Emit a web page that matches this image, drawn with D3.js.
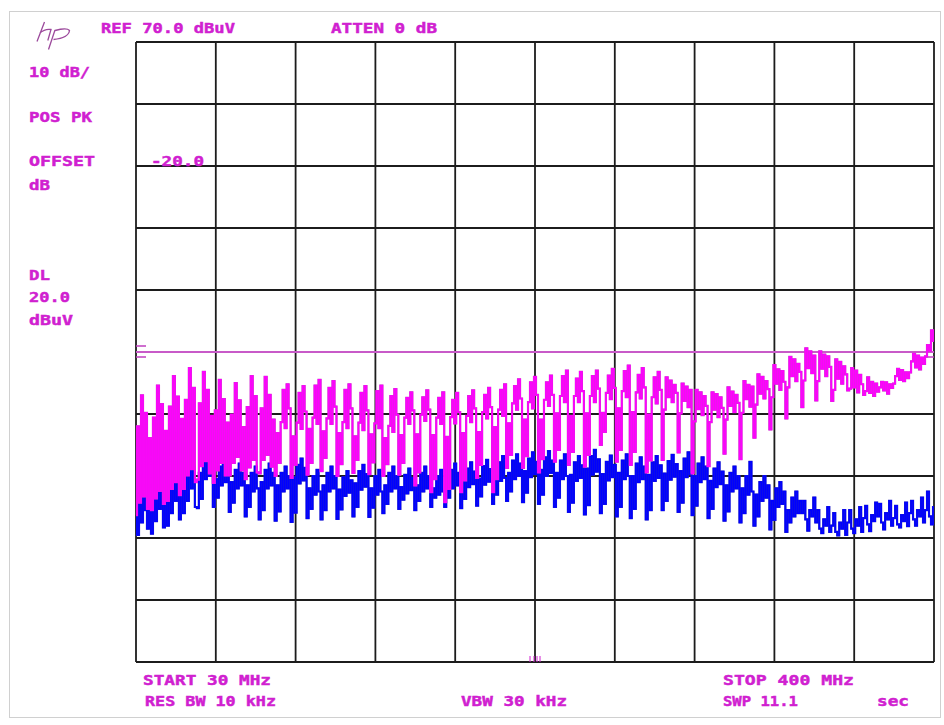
<!DOCTYPE html>
<html>
<head>
<meta charset="utf-8">
<script src="https://cdn.jsdelivr.net/npm/d3@7"></script>
<style>
  body { margin: 0; background: #fff; }
  text { font-family: "DejaVu Sans Mono", monospace; font-weight: bold; font-size: 14.5px; fill: #d020d0; stroke: #d020d0; stroke-width: 0.45px; }
</style>
</head>
<body>
<div id="chart"></div>
<script>
// analyzer settings
const START_MHZ = 30;
const STOP_MHZ = 400;
const REF_LEVEL = 70;
const DB_PER_DIV = 10;
const DISPLAY_LINE = 20;

const headerLabels = ['REF 70.0 dBuV', 'ATTEN 0 dB'];
const sideLabels = ['10 dB/', 'POS PK', 'OFFSET', 'dB', '-20.0', 'DL', '20.0', 'dBuV'];
const footerLabels = ['START 30 MHz', 'RES BW 10 kHz', 'VBW 30 kHz', 'STOP 400 MHz', 'SWP 11.1', 'sec'];

// trace A (magenta), dBuV, 401 points, one comb tooth per row
const traceA = [
  -6.3, 8.0, -4.3, 13.0, -3.3, 10.2, -5.3, 6.1,
  -5.5, 9.4, -3.6, 14.6, -2.4, 11.6, -4.5, 7.3,
  -4.0, 11.2, -2.1, 16.1, -1.0, 12.8, -3.1, 9.2,
  -2.1, 12.3, 0.1, 17.4, 1.1, 14.2, -1.0,
  -0.6, 11.7, 1.6, 16.8, 2.4, 13.9, 0.4, 9.7,
  -1.1, 10.6, 0.9, 15.5, 2.1, 12.4, 0.1, 8.6,
  0.1, 9.9, 2.1, 15.0, 3.1, 12.2, 0.9, 7.9,
  -0.5, 11.1, 1.4, 16.1, 2.6, 12.9, 0.6,
  0.4, 10.9, 2.6, 16.0, 3.4, 13.1, 1.5, 9.1,
  0.0, 6.9, 2.1, 8.7, 13.9, 7.7, 14.8, 10.9,
  -0.3, 6.4, 1.8, 8.6, 13.4, 7.6, 14.5, 10.4,
  0.2, 7.6, 2.1, 9.4, 14.6, 8.4, 15.5,
  0.8, 7.2, 2.9, 9.3, 14.2, 8.4, 15.3, 11.2,
  0.0, 6.9, 1.9, 8.7, 13.9, 7.7, 14.8, 10.9,
  0.5, 6.4, 2.6, 8.6, 13.4, 7.4, 14.5, 10.6,
  0.3, 6.7, 2.2, 8.5, 13.7, 7.7, 14.6,
  0.0, 6.1, 1.9, 8.1, 12.9, 7.1, 14.0, 9.9,
  0.2, 6.6, 2.1, 9.4, 12.6, 8.4, 13.5, 10.6,
  -1.5, 6.7, 0.6, 9.9, 12.7, 8.9, 13.8, 10.7,
  -2.6, 6.6, -0.5, 9.4, 12.6, 8.4, 13.5,
  -4.2, 6.3, -2.1, 9.5, 12.3, 8.5, 13.4, 10.3,
  -2.6, 6.9, -0.7, 9.7, 12.9, 8.7, 13.8, 10.9,
  -0.3, 7.1, 1.8, 10.3, 13.1, 9.3, 14.2, 11.1,
  -2.6, 7.9, -0.5, 10.7, 13.9, 9.7, 14.8,
  1.3, 8.5, 3.4, 11.7, 14.5, 10.7, 15.6, 12.5,
  1.3, 9.1, 3.2, 11.9, 15.1, 10.9, 16.0, 13.1,
  0.6, 9.1, 2.7, 12.3, 15.1, 11.3, 16.2, 13.1,
  2.3, 10.1, 4.2, 12.9, 16.1, 11.9, 17.0,
  1.8, 9.7, 3.9, 12.9, 15.7, 11.9, 16.8, 13.7,
  1.5, 10.1, 3.4, 12.9, 16.1, 11.9, 17.0, 14.1,
  5.0, 10.2, 7.1, 13.4, 16.2, 12.4, 17.3, 14.2,
  2.3, 10.9, 4.2, 13.7, 16.9, 12.7, 17.8,
  1.8, 10.3, 3.9, 13.5, 16.3, 12.5, 17.4, 14.3,
  0.6, 9.9, 2.5, 12.7, 15.9, 11.7, 16.8, 13.9,
  2.6, 10.7, 15.9, 12.7, 15.4, 11.9, 14.7, 13.4,
  3.8, 10.1, 14.9, 12.1, 14.4, 11.1, 13.9,
  0.4, 8.8, 13.9, 10.8, 13.5, 9.8, 12.9, 11.3,
  1.6, 8.7, 13.5, 10.7, 13.2, 9.5, 12.7, 11.0,
  3.6, 9.1, 14.3, 11.3, 13.6, 10.3, 13.1, 11.8,
  2.7, 10.2, 15.3, 12.4, 14.7, 11.2, 14.4,
  6.2, 11.5, 16.4, 13.3, 16.0, 12.5, 15.3, 14.0,
  7.5, 12.7, 17.9, 14.9, 17.2, 13.9, 16.9, 15.2,
  9.3, 14.3, 19.2, 16.1, 18.8, 15.3, 18.1, 16.8,
  11.1, 15.4, 20.6, 17.4, 20.1, 16.6, 19.4,
  12.2, 15.3, 20.1, 17.3, 19.6, 16.1, 19.3, 17.6,
  12.1, 13.9, 18.8, 15.7, 18.4, 14.9, 17.7, 16.4,
  13.8, 14.1, 17.4, 14.3, 17.0, 13.5, 16.3, 14.8,
  13.1, 13.7, 15.9, 13.4, 15.2, 12.9, 14.9,
  13.6, 14.3, 15.2, 13.8, 15.1, 13.3, 14.8, 14.2,
  14.9, 16.1, 17.3, 15.5, 17.1, 15.3, 16.7, 15.8,
  16.7, 18.5, 19.7, 17.5, 19.4, 17.2, 19.1, 18.1,
  19.3, 21.1, 20.2, 23.5, 21.8
];

// trace B (blue), dBuV, 401 points
const traceB = [
  4.8, -9.5, 1.8, -7.5, 3.0, -5.5, -8.5, -1.2,
  -9.3, -0.5, -7.3, 2.5, -5.3, 0.5, -8.3, -3.5,
  -8.0, 1.0, -6.0, 4.0, -4.0, 2.0, -7.0, -2.0,
  -6.0, 3.5, -4.0, 7.1, -2.0, 1.5, -5.0,
  -5.2, 0.5, -3.7, 2.5, -0.5, 3.5, 0.0, 2.0,
  -5.0, -0.5, -3.5, 1.5, -1.5, 2.5, -1.0, 1.0,
  -5.8, -1.0, -4.3, 1.0, -2.0, 2.0, -1.5, 0.5,
  -6.5, -1.5, -5.0, 0.5, -2.5, 1.5, -2.0,
  -7.0, -1.0, -5.5, 1.0, -2.0, 2.0, -1.5, 0.5,
  -7.2, -1.5, -5.7, 0.5, -2.5, 1.5, -2.0, 0.0,
  -7.4, -0.2, -5.9, 1.8, -1.2, 2.8, -0.7, 1.3,
  -6.8, -2.0, -5.3, 0.0, -3.0, 1.0, -2.5,
  -7.0, -1.5, -5.5, 0.5, -2.5, 1.5, -2.0, 0.0,
  -6.9, -2.2, -5.4, -0.2, -3.2, 0.8, -2.7, -0.7,
  -6.5, -1.2, -5.0, 0.8, -2.2, 1.8, -1.7, 0.3,
  -6.6, -2.0, -5.1, 0.0, -3.0, 1.0, -2.5,
  -6.0, -1.5, -4.5, 0.5, -2.5, 1.5, -2.0, 0.0,
  -5.3, -1.8, -3.8, 0.2, -2.8, 1.2, -2.3, -0.3,
  -5.5, -1.5, -4.0, 0.5, -2.5, 1.5, -2.0, 0.0,
  -5.0, -2.0, -3.5, 0.0, -3.0, 1.0, -2.5,
  -5.0, -1.0, -3.5, 1.0, -2.0, 2.0, -1.5, 0.5,
  -5.2, -0.8, -3.7, 1.2, -1.8, 2.2, -1.3, 0.7,
  -4.8, -0.4, -3.3, 1.6, -1.4, 2.6, -0.9, 1.1,
  -4.5, 0.2, -3.0, 2.2, -0.8, 3.2, -0.3,
  -4.0, 0.5, -2.5, 2.5, -0.5, 3.5, 0.0, 2.0,
  -4.2, 0.8, -2.7, 2.8, -0.2, 3.8, 0.3, 2.3,
  -4.5, 1.0, -3.0, 3.0, 0.0, 4.0, 0.5, 2.5,
  -5.0, 0.5, -3.5, 2.5, -0.5, 3.5, 0.0,
  -5.8, 0.2, -4.3, 2.2, -0.8, 3.2, -0.3, 1.7,
  -6.2, 1.2, -4.7, 3.2, 0.2, 4.2, 0.7, 2.7,
  -6.0, 0.3, -4.5, 2.3, -0.7, 3.3, -0.2, 1.8,
  -6.5, 0.5, -5.0, 2.5, -0.5, 3.5, 0.0,
  -6.8, 0.0, -5.3, 2.0, -1.0, 3.0, -0.5, 1.5,
  -7.0, 0.2, -5.5, 2.2, -0.8, 3.2, -0.3, 1.7,
  -5.5, 0.4, -4.0, 2.4, -0.6, 3.4, -0.1, 1.9,
  -5.8, 0.8, -4.3, 2.8, -0.2, 3.8, 0.3,
  -6.3, 0.0, -4.8, 2.0, -1.0, 3.0, -0.5, 1.5,
  -6.8, -0.8, -5.3, 1.2, -1.8, 2.2, -1.3, 0.7,
  -7.2, -1.5, -5.7, 0.5, -2.5, 1.5, -2.0, 0.0,
  -7.5, -2.0, -6.0, 0.0, -3.0, 2.3, -2.5,
  -8.0, -3.0, -6.5, -1.0, -4.0, 0.0, -3.5, -1.5,
  -8.6, -4.0, -7.1, -2.0, -5.0, -1.0, -4.5, -2.5,
  -9.0, -5.5, -7.5, -3.5, -6.5, -2.5, -6.0, -4.0,
  -6.0, -4.0, -7.0, -8.8, -5.5, -6.5, -3.5,
  -7.5, -5.5, -8.5, -9.2, -7.0, -8.0, -5.0, -9.0,
  -8.0, -6.0, -9.0, -9.6, -7.5, -8.5, -5.5, -9.5,
  -7.5, -5.5, -8.5, -9.2, -7.0, -8.0, -5.0, -9.0,
  -6.8, -4.8, -7.8, -8.9, -6.3, -7.3, -4.3,
  -6.5, -4.5, -7.5, -8.6, -6.0, -7.0, -4.0, -8.0,
  -6.8, -4.8, -7.8, -8.3, -6.3, -7.3, -4.3, -8.1,
  -6.0, -4.0, -7.0, -8.0, -5.5, -6.5, -3.5, -7.5,
  -5.5, -2.5, -6.5, -7.8, -5.0
];

const WIDTH = 944;
const HEIGHT = 725;
const plot = { left: 136, right: 934, top: 42, bottom: 662 };

const svg = d3.select('#chart').append('svg')
    .attr('width', WIDTH)
    .attr('height', HEIGHT);

const x = d3.scaleLinear()
    .domain([START_MHZ, STOP_MHZ])
    .range([plot.left, plot.right]);

const y = d3.scaleLinear()
    .domain([REF_LEVEL - 10 * DB_PER_DIV, REF_LEVEL])
    .range([plot.bottom, plot.top]);

// screen frame
svg.append('rect')
    .attr('x', 9.5).attr('y', 11.5)
    .attr('width', 931).attr('height', 706)
    .attr('fill', 'none')
    .attr('stroke', '#d0d0d0');

// graticule
const xTicks = d3.range(0, 11).map(i => START_MHZ + i * (STOP_MHZ - START_MHZ) / 10);
const yTicks = d3.range(0, 11).map(i => REF_LEVEL - i * DB_PER_DIV);

const grid = svg.append('g').attr('stroke', '#1c1c1c').attr('stroke-width', 1.8);
grid.selectAll('line.v').data(xTicks).enter().append('line')
    .attr('class', 'v')
    .attr('x1', d => x(d)).attr('x2', d => x(d))
    .attr('y1', plot.top).attr('y2', plot.bottom);
grid.selectAll('line.h').data(yTicks).enter().append('line')
    .attr('class', 'h')
    .attr('x1', plot.left).attr('x2', plot.right)
    .attr('y1', d => y(d)).attr('y2', d => y(d));

// display line
svg.append('line')
    .attr('x1', plot.left).attr('x2', plot.right)
    .attr('y1', y(DISPLAY_LINE)).attr('y2', y(DISPLAY_LINE))
    .attr('stroke', '#c85ac8').attr('stroke-width', 2);
svg.append('path')
    .attr('d', `M${plot.left},${y(DISPLAY_LINE) - 6}h10M${plot.left},${y(DISPLAY_LINE) + 5}h10M${plot.right - 9},${y(DISPLAY_LINE) + 5}h9`)
    .attr('stroke', '#c040c0').attr('stroke-width', 1.6);

// traces: the analyzer joins successive points with vertical strokes
function freqAt(i, n) {
    return START_MHZ + i * (STOP_MHZ - START_MHZ) / (n - 1);
}

function drawTrace(data, edge, color) {
    const line = d3.line()
        .x((d, i) => x(freqAt(i, data.length)))
        .y(d => y(d))
        .curve(d3.curveStep);
    const g = svg.append('g').attr('fill', 'none');
    g.append('path')
        .datum(data)
        .attr('d', line)
        .attr('stroke', edge)
        .attr('stroke-width', 2.2);
    g.append('path')
        .datum(data)
        .attr('d', line)
        .attr('stroke', color)
        .attr('stroke-width', 1.7);
}

drawTrace(traceB, '#2a2ab8', '#0000ff');
drawTrace(traceA, '#c040c0', '#ff00ff');

// small marker at centre bottom
const cx = x((START_MHZ + STOP_MHZ) / 2);
svg.append('path')
    .attr('d', `M${cx - 5},656v6M${cx - 1},656v6M${cx + 2},656v6M${cx + 5},656v6`)
    .attr('stroke', '#d020d0').attr('stroke-width', 1);

// hp logo
svg.append('path')
    .attr('d', 'M44.5,22L37,41.5M39.8,33Q45,28.5 51,29.5L47.8,40.5M55,30L48.5,49.5M55,30.5Q67,27.5 69.5,30.5Q68.5,38 53.5,39.5')
    .attr('fill', 'none')
    .attr('stroke', '#9c4a9c')
    .attr('stroke-width', 1.3);

// annotation text
function label(txt, px, py, w) {
    svg.append('text')
        .attr('x', px).attr('y', py)
        .attr('textLength', w)
        .attr('lengthAdjust', 'spacingAndGlyphs')
        .text(txt);
}

label(headerLabels[0], 101, 33, 134);
label(headerLabels[1], 331, 33, 106);

const sidePos = [[29, 77, 61], [29, 121.5, 63], [29, 166, 66], [29, 190, 21],
                 [151, 166, 53], [29, 280, 21], [29, 302, 41], [29, 324.5, 44]];
sideLabels.forEach((t, i) => label(t, sidePos[i][0], sidePos[i][1], sidePos[i][2]));

const footPos = [[143, 685, 128], [145, 706, 131], [461, 706, 106],
                 [723, 685, 131], [723, 706, 75], [877, 706, 32]];
footerLabels.forEach((t, i) => label(t, footPos[i][0], footPos[i][1], footPos[i][2]));
</script>
</body>
</html>
